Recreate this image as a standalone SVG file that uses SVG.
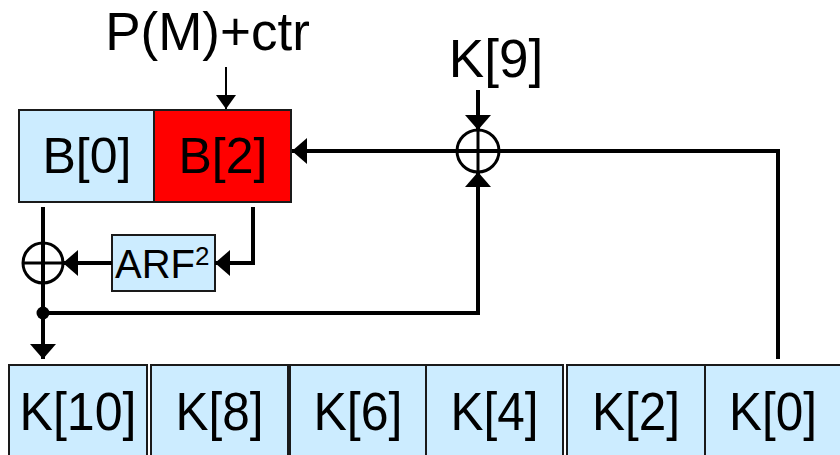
<svg xmlns="http://www.w3.org/2000/svg" width="840" height="455" viewBox="0 0 840 455">
<style>
text{font-family:"Liberation Sans",Arial,sans-serif;fill:#000}
.box{fill:#CCECFF;stroke:#1a1a1a;stroke-width:2}
.red{fill:#FF0000;stroke:#1a1a1a;stroke-width:2}
.ln{fill:none;stroke:#000;stroke-width:4}
.thin{fill:none;stroke:#000;stroke-width:2}
.xor{fill:none;stroke:#000;stroke-width:3}
</style>
<defs>
<marker id="ah" markerUnits="userSpaceOnUse" markerWidth="15" markerHeight="26" refX="15" refY="13" orient="auto" viewBox="0 0 15 26">
<path d="M0,0 L15,13 L0,26 z" fill="#000"/>
</marker>
<marker id="ahs" markerUnits="userSpaceOnUse" markerWidth="14" markerHeight="20" refX="14" refY="10" orient="auto" viewBox="0 0 14 20">
<path d="M0,0 L14,10 L0,20 z" fill="#000"/>
</marker>
</defs>
<g id="label-pm"><text x="207.5" y="50" font-size="53" text-anchor="middle">P(M)+ctr</text></g>
<g id="label-k9"><text x="496" y="77" font-size="53" text-anchor="middle">K[9]</text></g>
<g id="B0"><rect class="box" x="19" y="110" width="135" height="92"/><text x="87" y="173" font-size="50" text-anchor="middle">B[0]</text></g>
<g id="B2"><rect class="red" x="154" y="110" width="137" height="92"/><text x="223" y="173" font-size="50" text-anchor="middle">B[2]</text></g>
<g id="ARF"><rect class="box" x="112" y="235" width="103" height="56"/><text x="115" y="278" font-size="40">ARF<tspan font-size="26" dy="-13">2</tspan></text></g>
<g id="xor-left"><circle class="xor" cx="43" cy="263" r="20"/><line class="xor" x1="23" y1="263" x2="63" y2="263"/></g>
<g id="xor-right"><circle class="xor" cx="478" cy="151" r="21"/><line class="xor" x1="478" y1="130" x2="478" y2="172"/></g>
<g id="K10"><rect class="box" x="9" y="365" width="138" height="100"/><text x="78" y="430" font-size="53" text-anchor="middle" textLength="117" lengthAdjust="spacingAndGlyphs">K[10]</text></g>
<g id="K8"><rect class="box" x="151" y="365" width="137" height="100"/><text x="219.5" y="430" font-size="53" text-anchor="middle" textLength="88" lengthAdjust="spacingAndGlyphs">K[8]</text></g>
<g id="K6"><rect class="box" x="290" y="365" width="136" height="100"/><text x="358" y="430" font-size="53" text-anchor="middle" textLength="89" lengthAdjust="spacingAndGlyphs">K[6]</text></g>
<g id="K4"><rect class="box" x="426" y="365" width="137" height="100"/><text x="494.5" y="430" font-size="53" text-anchor="middle" textLength="88" lengthAdjust="spacingAndGlyphs">K[4]</text></g>
<g id="K2"><rect class="box" x="567" y="365" width="138" height="100"/><text x="636" y="430" font-size="53" text-anchor="middle" textLength="88" lengthAdjust="spacingAndGlyphs">K[2]</text></g>
<g id="K0"><rect class="box" x="705" y="365" width="140" height="100"/><text x="773" y="430" font-size="53" text-anchor="middle" textLength="88" lengthAdjust="spacingAndGlyphs">K[0]</text></g>
<g id="connectors">
<path class="thin" d="M226,67 V109" marker-end="url(#ahs)"/>
<path class="ln" d="M478,90 V130" marker-end="url(#ah)"/>
<path class="ln" d="M778,359 V151 H292" marker-end="url(#ah)"/>
<path class="ln" d="M43,207 V359" marker-end="url(#ah)"/>
<path class="ln" d="M112,263 H63" marker-end="url(#ah)"/>
<path class="ln" d="M253,207 V263 H215" marker-end="url(#ah)"/>
<path class="ln" d="M43,313 H478 V172" marker-end="url(#ah)"/>
<circle cx="43" cy="313" r="6.5" fill="#000"/>
</g>
</svg>
